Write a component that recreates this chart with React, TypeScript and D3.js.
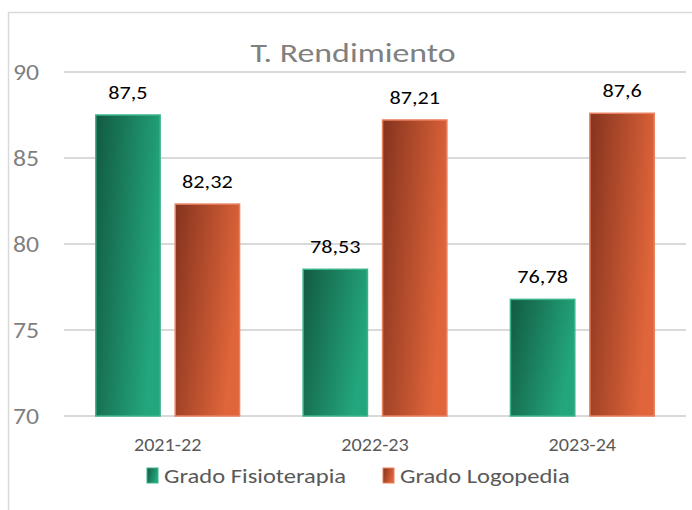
import React, { useRef, useEffect } from "react";
import * as d3 from "d3";

const categories = ["2021-22", "2022-23", "2023-24"];
const series = ["Grado Fisioterapia", "Grado Logopedia"];
const fisioterapia = [87.5, 78.53, 76.78];
const logopedia = [82.32, 87.21, 87.6];
const labelsFisio = ["87,5", "78,53", "76,78"];
const labelsLogo = ["82,32", "87,21", "87,6"];
const yTicks = [70, 75, 80, 85, 90];

const W = 692;
const H = 510;
const FONT = "Carlito, Calibri, Lato, 'Open Sans', sans-serif";
// the reference text looks stretched sideways, so scale x a bit
const SX = 1.17;

function App() {
  const svgRef = useRef<SVGSVGElement>(null);

  useEffect(() => {
    const svg = d3.select(svgRef.current);
    svg.selectAll("*").remove();

    const gradients = [
      { id: "gGreen", from: "#125a41", to: "#23a67d" },
      { id: "gOrange", from: "#85331e", to: "#e0653a" },
    ];
    const strokes = ["#3cb48a", "#e9805f"];

    const defs = svg.append("defs");
    gradients.forEach(g => {
      const lg = defs.append("linearGradient")
        .attr("id", g.id)
        .attr("x1", "0").attr("y1", "0")
        .attr("x2", "1").attr("y2", "0.35");
      lg.append("stop").attr("offset", "0").attr("stop-color", g.from);
      lg.append("stop").attr("offset", "1").attr("stop-color", g.to);
    });

    const at = (x: number, y: number, sx = SX) => `translate(${x},${y}) scale(${sx},1)`;

    // chart frame (cut at right/bottom)
    svg.append("rect")
      .attr("x", 8.5).attr("y", 12.5)
      .attr("width", 700).attr("height", 520)
      .attr("fill", "none")
      .attr("stroke", "#d9d9d9")
      .attr("stroke-width", 1.5);

    const y = d3.scaleLinear().domain([70, 90]).range([416, 72]);
    const x0 = d3.scaleBand().domain(categories).range([64, 686]).padding(0);
    const x1 = d3.scaleBand().domain(series).range([0, x0.bandwidth()])
      .paddingInner(0.19).paddingOuter(0.4);

    // gridlines
    svg.append("g")
      .selectAll("line")
      .data(yTicks)
      .join("line")
      .attr("x1", 64).attr("x2", 686)
      .attr("y1", d => y(d)).attr("y2", d => y(d))
      .attr("stroke", "#d9d9d9")
      .attr("stroke-width", 2);

    // y tick labels
    svg.append("g")
      .selectAll("text")
      .data(yTicks)
      .join("text")
      .attr("transform", d => at(39, y(d) + 8))
      .attr("text-anchor", "end")
      .attr("font-family", FONT)
      .attr("font-size", 22)
      .attr("fill", "#7f7f7f")
      .text(d => d);

    // title
    svg.append("text")
      .attr("transform", at(353, 62, 1.23))
      .attr("text-anchor", "middle")
      .attr("font-family", FONT)
      .attr("font-size", 27.5)
      .attr("fill", "#808080")
      .text("T. Rendimiento");

    const rows = categories.map((c, i) => ({
      cat: c,
      vals: [
        { s: series[0], v: fisioterapia[i], l: labelsFisio[i], k: 0 },
        { s: series[1], v: logopedia[i], l: labelsLogo[i], k: 1 },
      ],
    }));

    const groups = svg.append("g")
      .selectAll("g")
      .data(rows)
      .join("g")
      .attr("transform", d => `translate(${x0(d.cat)},0)`);

    groups.selectAll("rect")
      .data(d => d.vals)
      .join("rect")
      .attr("x", d => x1(d.s)!)
      .attr("y", d => y(d.v))
      .attr("width", x1.bandwidth())
      .attr("height", d => y(70) - y(d.v))
      .attr("fill", d => `url(#${gradients[d.k].id})`)
      .attr("stroke", d => strokes[d.k])
      .attr("stroke-width", 1.5);

    groups.selectAll("text")
      .data(d => d.vals)
      .join("text")
      .attr("transform", d => at(x1(d.s)! + x1.bandwidth() / 2, y(d.v) - 16))
      .attr("text-anchor", "middle")
      .attr("font-family", FONT)
      .attr("font-size", 19)
      .attr("fill", "#000")
      .text(d => d.l);

    // category labels
    svg.append("g")
      .selectAll("text")
      .data(categories)
      .join("text")
      .attr("transform", d => at(x0(d)! + x0.bandwidth() / 2, 451, 1.12))
      .attr("text-anchor", "middle")
      .attr("font-family", FONT)
      .attr("font-size", 18)
      .attr("fill", "#595959")
      .text(d => d);

    // legend
    const legendX = [147, 383];
    const lg = svg.append("g")
      .selectAll("g")
      .data(series)
      .join("g")
      .attr("transform", (d, i) => `translate(${legendX[i]},468)`);
    lg.append("rect")
      .attr("width", 11).attr("height", 15)
      .attr("fill", (d, i) => `url(#${gradients[i].id})`)
      .attr("stroke", (d, i) => strokes[i])
      .attr("stroke-width", 1);
    lg.append("text")
      .attr("transform", at(17, 15))
      .attr("font-family", FONT)
      .attr("font-size", 21)
      .attr("fill", "#595959")
      .text(d => d);
  }, []);

  return (
    <div style={{ position: "absolute", left: 0, top: 0 }}>
      <svg ref={svgRef} width={W} height={H} style={{ display: "block", background: "#fff" }}></svg>
    </div>
  );
}

export default App;
